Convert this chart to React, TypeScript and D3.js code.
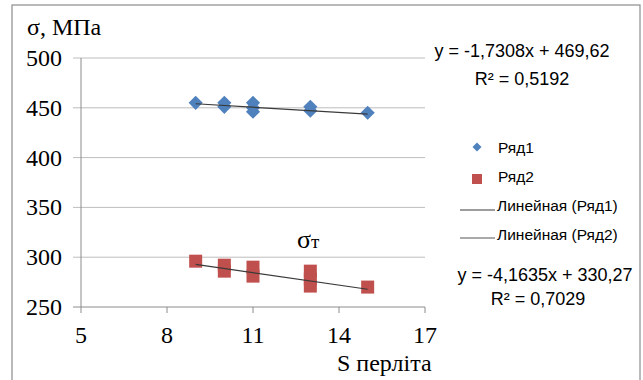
import React from "react";
import * as d3 from "d3";

const xTicks = [5, 8, 11, 14, 17];
const yTicks = [250, 300, 350, 400, 450, 500];

const s1x = [9, 10, 10, 11, 11, 11, 13, 13, 15];
const s1y = [455, 455, 451, 455, 450, 446, 451, 447, 445];
const s2x = [9, 10, 10, 11, 11, 13, 13, 13, 15];
const s2y = [296, 292, 286, 290, 281, 286, 278, 271, 270];

const trend1 = { slope: -1.7308, intercept: 469.62, from: 9, to: 15 };
const trend2 = { slope: -4.1635, intercept: 330.27, from: 9, to: 15 };

const eq1 = ["y = -1,7308x + 469,62", "R² = 0,5192"];
const eq2 = ["y = -4,1635x + 330,27", "R² = 0,7029"];
const legendLabels = ["Ряд1", "Ряд2", "Линейная (Ряд1)", "Линейная (Ряд2)"];

const C1 = "#4F81BD";
const C2 = "#C0504D";

export default function App() {
  const x = d3.scaleLinear().domain([5, 17]).range([81, 425]);
  const y = d3.scaleLinear().domain([250, 500]).range([307, 58]);
  const serif = "'Liberation Serif', 'Times New Roman', serif";
  const sans = "'Liberation Sans', Arial, sans-serif";
  const diamond = d3.symbol().type(d3.symbolSquare).size(100)();
  const tl = (t: typeof trend1) =>
    d3.line<number>().x((v) => x(v)).y((v) => y(t.slope * v + t.intercept))([t.from, t.to]) || "";

  return (
    <svg
      width={643}
      height={380}
      style={{ position: "absolute", left: 0, top: 0, background: "#fff" }}
    >
      <rect x={12} y={5} width={628} height={400} fill="#fff" stroke="#8c8c8c" strokeWidth={1.2} />
      {yTicks.map((t) => (
        <line key={"g" + t} x1={73} x2={425} y1={y(t)} y2={y(t)} stroke={t === 250 ? "#8c8c8c" : "#bdbdbd"} strokeWidth={1} />
      ))}
      <line x1={81} x2={81} y1={58} y2={307} stroke="#8c8c8c" />
      {xTicks.map((t) => (
        <line key={"xt" + t} x1={x(t)} x2={x(t)} y1={307} y2={313} stroke="#8c8c8c" />
      ))}
      {yTicks.map((t) => (
        <text key={"yl" + t} x={62} y={y(t) + 8} textAnchor="end" fontFamily={serif} fontSize={24} fill="#000">
          {t}
        </text>
      ))}
      {xTicks.map((t) => (
        <text key={"xl" + t} x={x(t)} y={343} textAnchor="middle" fontFamily={serif} fontSize={24} fill="#000">
          {t}
        </text>
      ))}
      <text x={27} y={35} fontFamily={serif} fontSize={24}>σ, МПа</text>
      <text x={337} y={371} fontFamily={serif} fontSize={24}>S перліта</text>
      <text x={297} y={248} fontFamily={serif} fontSize={26}>
        σ<tspan fontSize={19}>т</tspan>
      </text>
      {s1x.map((v, i) => (
        <path key={"a" + i} d={diamond} transform={`translate(${x(v)},${y(s1y[i])}) rotate(45)`} fill={C1} />
      ))}
      {s2x.map((v, i) => (
        <rect key={"b" + i} x={x(v) - 6.5} y={y(s2y[i]) - 6.5} width={13} height={13} fill={C2} />
      ))}
      <path d={tl(trend1)} stroke="#3a3a3a" strokeWidth={1.2} fill="none" />
      <path d={tl(trend2)} stroke="#3a3a3a" strokeWidth={1.2} fill="none" />
      <text x={522} y={57} textAnchor="middle" fontFamily={sans} fontSize={18}>{eq1[0]}</text>
      <text x={522} y={85} textAnchor="middle" fontFamily={sans} fontSize={18}>{eq1[1]}</text>
      <text x={545} y={281} textAnchor="middle" fontFamily={sans} fontSize={18}>{eq2[0]}</text>
      <text x={538} y={305} textAnchor="middle" fontFamily={sans} fontSize={18}>{eq2[1]}</text>
      <path d={d3.symbol().type(d3.symbolSquare).size(40)()} transform="translate(477,147) rotate(45)" fill={C1} />
      <rect x={472} y={174} width={10} height={10} fill={C2} />
      <line x1={460} x2={495} y1={210} y2={210} stroke="#3a3a3a" />
      <line x1={460} x2={495} y1={238} y2={238} stroke="#555" />
      {legendLabels.map((l, i) => (
        <text key={l} x={i < 2 ? 498 : 497} y={153 + i * 29} fontFamily={sans} fontSize={15.5}>
          {l}
        </text>
      ))}
    </svg>
  );
}
